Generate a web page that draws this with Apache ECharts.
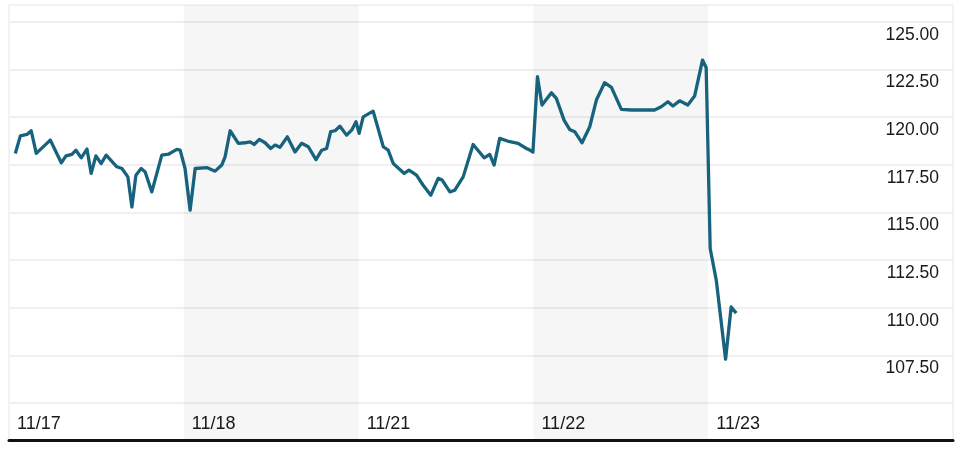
<!DOCTYPE html>
<html>
<head>
<meta charset="utf-8">
<script src="https://cdn.jsdelivr.net/npm/echarts@6/dist/echarts.min.js"></script>
<style>
html,body{margin:0;padding:0;background:#fff;}
#chart{width:960px;height:449px;}
</style>
</head>
<body>
<div id="chart"></div>
<script>
// Trading-day labels (x axis ticks at 0..4 = start of each session)
const dayLabels = ['11/17', '11/18', '11/21', '11/22', '11/23'];
// Y axis gridline values and labelled values
const yTicks = [105, 107.5, 110, 112.5, 115, 117.5, 120, 122.5, 125];
const yLabels = [107.5, 110, 112.5, 115, 117.5, 120, 122.5, 125];
// Shaded sessions (start/end in day units)
const shadedDays = [[1, 2], [3, 4]];

// Position within the trading days (day index + fraction of session)
const times = [
  0.036, 0.065, 0.103, 0.127, 0.156, 0.236, 0.299, 0.326, 0.360, 0.383,
  0.413, 0.446, 0.470, 0.497, 0.527, 0.556, 0.617, 0.646, 0.680, 0.703,
  0.726, 0.756, 0.779, 0.817, 0.874, 0.912, 0.960, 0.979,
  1.007, 1.036, 1.065, 1.131, 1.179, 1.217, 1.236, 1.265, 1.312, 1.350,
  1.379, 1.402, 1.432, 1.465, 1.497, 1.522, 1.550, 1.592, 1.636, 1.674,
  1.712, 1.756, 1.789, 1.817, 1.840, 1.865, 1.893, 1.931, 1.960, 1.985,
  2.003, 2.026, 2.083, 2.141, 2.169, 2.198, 2.261, 2.288, 2.331, 2.369,
  2.413, 2.455, 2.478, 2.522, 2.550, 2.598, 2.655, 2.718, 2.750, 2.775,
  2.807, 2.851, 2.912, 2.960, 2.975, 2.997,
  3.023, 3.049, 3.103, 3.131, 3.175, 3.207, 3.236, 3.278, 3.322, 3.360,
  3.407, 3.446, 3.503, 3.560, 3.693, 3.731, 3.769, 3.798, 3.836, 3.883,
  3.922, 3.967, 3.988,
  4.011, 4.046, 4.099, 4.131, 4.160
];
// Price at each position
const prices = [
  118.10, 119.02, 119.10, 119.29, 118.10, 118.80, 117.61, 117.97, 118.05, 118.27,
  117.87, 118.33, 117.05, 117.97, 117.57, 118.01, 117.40, 117.31, 116.87, 115.29,
  116.96, 117.31, 117.13, 116.08, 118.01, 118.06, 118.31, 118.27,
  117.31, 115.12, 117.31, 117.36, 117.17, 117.49, 117.92, 119.29, 118.63, 118.66,
  118.71, 118.57, 118.84, 118.66, 118.36, 118.54, 118.42, 118.97, 118.18, 118.63,
  118.45, 117.78, 118.27, 118.36, 119.24, 119.29, 119.53, 119.06, 119.32, 119.76,
  119.15, 120.02, 120.32, 118.45, 118.27, 117.57, 117.05, 117.22, 116.96, 116.43,
  115.91, 116.79, 116.70, 116.08, 116.17, 116.87, 118.57, 117.87, 118.05, 117.49,
  118.89, 118.75, 118.63, 118.36, 118.30, 118.17,
  122.13, 120.64, 121.28, 120.99, 119.85, 119.36, 119.24, 118.66, 119.50, 120.90,
  121.81, 121.57, 120.41, 120.38, 120.38, 120.55, 120.81, 120.59, 120.86, 120.64,
  121.11, 123.00, 122.61,
  113.11, 111.44, 107.30, 110.04, 109.72
];

const seriesData = times.map((t, i) => [t, prices[i]]);

const chart = echarts.init(document.getElementById('chart'), null, {renderer: 'canvas'});
chart.setOption({
  animation: false,
  backgroundColor: '#ffffff',
  grid: {
    left: 9, right: 7, top: 5, bottom: 9,
    show: true, borderColor: '#e6e6e6', borderWidth: 1,
    backgroundColor: 'transparent'
  },
  xAxis: {
    type: 'value',
    min: 0, max: 5.4, interval: 1,
    axisLine: {show: true, onZero: false, lineStyle: {color: '#111', width: 3}},
    axisTick: {show: false},
    splitLine: {show: false},
    axisLabel: {
      inside: true,
      margin: 7,
      align: 'left',
      padding: [0, 0, 0, 8],
      color: '#1a1a1a',
      fontFamily: 'Liberation Sans, Arial, sans-serif',
      fontSize: 18,
      showMinLabel: true,
      showMaxLabel: true,
      formatter: function (v) {
        const i = Math.round(v);
        return (Math.abs(v - i) < 1e-6 && dayLabels[i]) ? dayLabels[i] : '';
      }
    }
  },
  yAxis: {
    type: 'value',
    position: 'right',
    min: 103.06, max: 125.89,
    axisLine: {show: false},
    axisTick: {show: false, customValues: yTicks},
    splitLine: {show: true, lineStyle: {color: '#ebebeb', width: 1.5}},
    axisLabel: {
      inside: true,
      margin: 14,
      customValues: yLabels,
      verticalAlign: 'top',
      padding: [4, 0, 0, 0],
      color: '#1a1a1a',
      fontFamily: 'Liberation Sans, Arial, sans-serif',
      fontSize: 17.5,
      formatter: function (v) { return v.toFixed(2); }
    }
  },
  series: [{
    type: 'line',
    data: seriesData,
    showSymbol: false,
    symbol: 'none',
    smooth: false,
    lineStyle: {color: '#17637d', width: 3.3, join: 'round'},
    markArea: {
      silent: true,
      itemStyle: {color: 'rgba(0,0,0,0.037)'},
      label: {show: false},
      data: shadedDays.map(d => [{xAxis: d[0]}, {xAxis: d[1]}])
    }
  }]
});
</script>
</body>
</html>
